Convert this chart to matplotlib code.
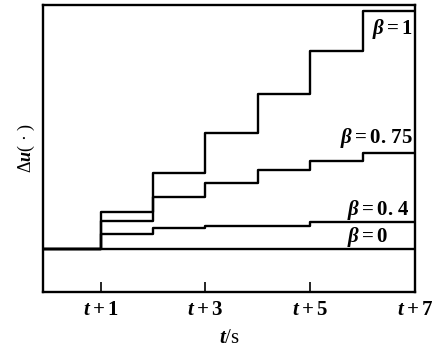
import matplotlib
matplotlib.use("Agg")
import matplotlib.pyplot as plt

plt.rcParams["font.family"] = ["Liberation Serif", "DejaVu Serif"]
plt.rcParams["font.weight"] = "bold"
plt.rcParams["mathtext.fontset"] = "custom"
plt.rcParams["mathtext.rm"] = "Liberation Serif:bold"
plt.rcParams["mathtext.it"] = "Liberation Serif:italic:bold"
plt.rcParams["mathtext.bf"] = "Liberation Serif:bold"

# 时间步 (t+1 ... t+7)
steps = [1, 2, 3, 4, 5, 6, 7]
# 各 beta 下的累计 Δu (图上读出的相对值)
du_b1 = [0.95, 1.95, 2.97, 3.97, 5.08, 6.10]
du_b075 = [0.72, 1.33, 1.69, 2.03, 2.26, 2.46]
du_b04 = [0.38, 0.54, 0.59, 0.59, 0.69, 0.69]
du_b0 = [0, 0, 0, 0, 0, 0]

tick_pos = [1, 3, 5, 7]
tick_labels = ["$t+1$", "$t+3$", "$t+5$", "$t+7$"]

x0 = -0.1
fig = plt.figure(figsize=(4.43, 3.5), dpi=100)
ax = fig.add_axes([0.097, 0.166, 0.840, 0.820])

for vals in [du_b1, du_b075, du_b04]:
    xs = [x0] + steps
    ys = [0] + vals + [vals[-1]]
    ax.step(xs, ys, where="post", color="black", lw=1.7)
ax.plot([x0, 7], [du_b0[0], du_b0[-1]], color="black", lw=1.7)

ax.set_xlim(x0, 7)
ax.set_ylim(-1.10, 6.26)

ax.set_xticks(tick_pos)
ax.set_xticklabels(tick_labels, fontsize=15)
ax.tick_params(axis="x", direction="in", length=7, width=1.2, pad=6)
ax.set_yticks([])
for s in ax.spines.values():
    s.set_linewidth(1.7)

# 曲线标注
ax.text(6.96, 5.65, r"$\beta=1$", fontsize=15, ha="right", va="center")
ax.text(6.96, 2.85, r"$\beta=$0. 75", fontsize=15, ha="right", va="center")
ax.text(6.9, 1.0, r"$\beta=$0. 4", fontsize=15, ha="right", va="center")
ax.text(6.48, 0.31, r"$\beta=0$", fontsize=15, ha="right", va="center")

ax.set_xlabel("$t$/s", fontsize=15, labelpad=6)
ax.set_ylabel("Δ$u$( · )", fontsize=13, labelpad=4)

fig.savefig("out.png", dpi=100)
